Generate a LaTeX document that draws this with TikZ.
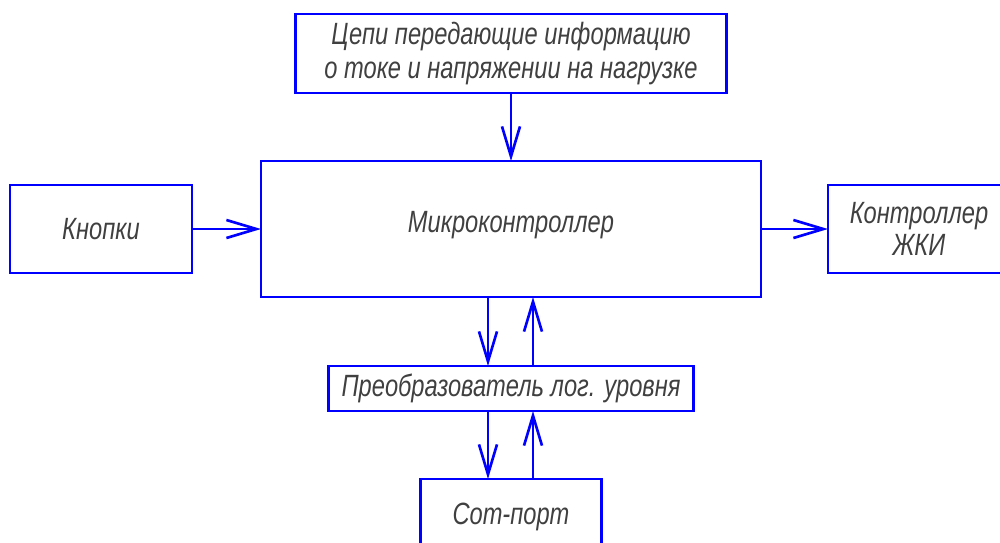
\documentclass[tikz,border=0pt]{standalone}
\usepackage{fontspec}
\setmainfont[FakeStretch=0.77]{Liberation Sans}
\usetikzlibrary{arrows.meta,positioning,calc}
\definecolor{bsblue}{RGB}{0,0,255}
\tikzset{
  bsnode/.style={
    rectangle, draw=bsblue, line width=1.5pt, outer sep=0pt,
    align=center, inner sep=2pt, text=black!75,
    font=\itshape\fontsize{17.5}{19.6}\selectfont
  },
  bsside/.style={bsnode, minimum width=3.64cm, minimum height=1.76cm},
  bsarrow/.style={-{Straight Barb[length=0.6cm,width=0.36cm]}, line width=1.5pt, draw=bsblue},
}
\begin{document}
\begin{tikzpicture}[node distance=1.36cm and 1.36cm]
  \useasboundingbox (-10.22,4.58) rectangle (9.78,-6.26);
  \clip (-10.22,4.58) rectangle (9.78,-6.26);
  \node (mcu)  [bsnode, minimum width=10cm, minimum height=2.72cm] {\raisebox{0.3cm}{Микроконтроллер}};
  \node (info) [bsnode, above=of mcu, minimum width=8.62cm, minimum height=1.58cm]
    {Цепи передающие информацию\\о токе и напряжении на нагрузке};
  \node (btn)  [bsside, left=1.38cm of mcu]  {Кнопки};
  \node (lcd)  [bsside, right=1.34cm of mcu] {\raisebox{-0.15cm}{\shortstack{Контроллер\\ЖКИ}}};
  \node (conv) [bsnode, below=1.38cm of mcu, minimum width=7.3cm, minimum height=0.9cm]
    {Преобразователь лог. уровня};
  \node (com)  [bsnode, below=of conv, minimum width=3.62cm, minimum height=1.52cm] {Com-порт};
  \draw[bsarrow] (info) -- (mcu);
  \draw[bsarrow] (btn) -- (mcu);
  \draw[bsarrow] (mcu) -- (lcd);
  \draw[bsarrow] ([xshift=-0.46cm]mcu.south) -- ([xshift=-0.46cm]conv.north);
  \draw[bsarrow] ([xshift=0.44cm]conv.north) -- ([xshift=0.44cm]mcu.south);
  \draw[bsarrow] ([xshift=-0.46cm]conv.south) -- ([xshift=-0.46cm]com.north);
  \draw[bsarrow] ([xshift=0.44cm]com.north) -- ([xshift=0.44cm]conv.south);
\end{tikzpicture}
\end{document}
